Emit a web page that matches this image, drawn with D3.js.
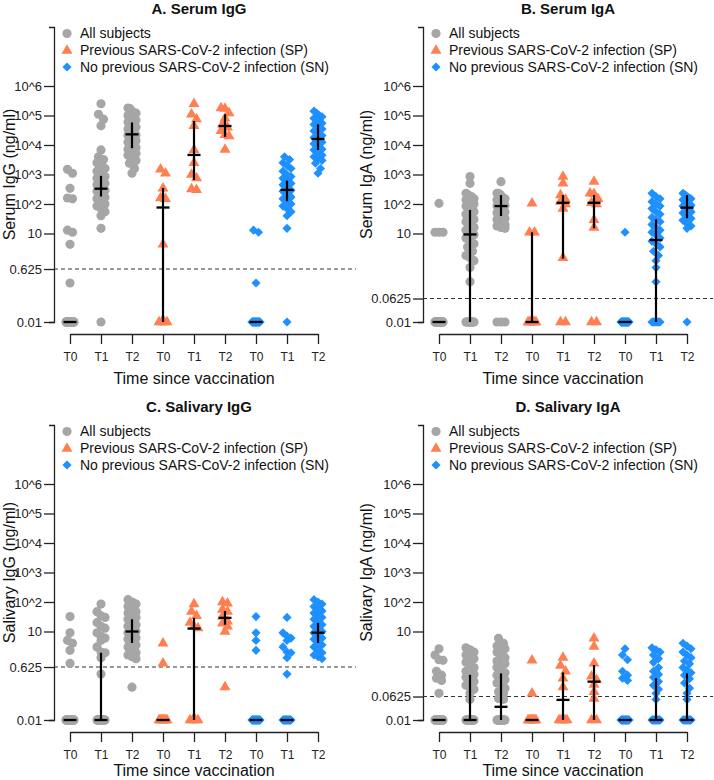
<!DOCTYPE html>
<html><head><meta charset="utf-8">
<script src="https://cdn.jsdelivr.net/npm/d3@7"></script>
<style>body{margin:0;background:#fff}svg{display:block}text{font-family:"Liberation Sans",Arial,sans-serif}</style>
</head><body><svg id="c" width="714" height="780"></svg>
<script>
const categories = ["T0", "T1", "T2"];
const groups = ["All subjects", "Previous SARS-CoV-2 infection (SP)", "No previous SARS-CoV-2 infection (SN)"];
const panelTitles = ["A. Serum IgG", "B. Serum IgA", "C. Salivary IgG", "D. Salivary IgA"];
const yAxisTitles = ["Serum IgG (ng/ml)", "Serum IgA (ng/ml)", "Salivary IgG (ng/ml)", "Salivary IgA (ng/ml)"];
const xAxisTitle = "Time since vaccination";
const cutoffs = [0.625, 0.0625, 0.625, 0.0625];
const tickValuesIgG = [0.01, 0.625, 10, 100, 1e3, 1e4, 1e5, 1e6];
const tickLabelsIgG = ["0.01", "0.625", "10", "10^2", "10^3", "10^4", "10^5", "10^6"];
const tickValuesIgA = [0.01, 0.0625, 10, 100, 1e3, 1e4, 1e5, 1e6];
const tickLabelsIgA = ["0.01", "0.0625", "10", "10^2", "10^3", "10^4", "10^5", "10^6"];

// values per time point [T0, T1, T2]; "All subjects" = SP + SN
const serumIgG_SP = [
  [1500, 1100, 340, 160, 150, 4.3, 0.01, 0.01, 0.01, 0.01],
  [250000, 110000, 75000, 45000, 6800, 2500, 1000, 750, 320, 300],
  [180000, 170000, 120000, 80000, 50000, 40000, 30000, 22000, 20000, 7000]
];
const serumIgG_SN = [
  [13, 11, 0.21, 0.01,0.01,0.01,0.01,0.01,0.01,0.01,0.01,0.01,0.01, 0.01,0.01,0.01,0.01,0.01,0.01,0.01,0.01,0.01,0.01, 0.01,0.01,0.01,0.01,0.01,0.01,0.01,0.01,0.01,0.01, 0.01,0.01,0.01],
  [4000, 3200, 2500, 2000, 1600, 1300, 1000, 850, 750, 650, 600, 550, 500, 450, 400, 360, 330, 310, 290, 270, 250, 230, 210, 190, 170, 150, 135, 125, 115, 100, 85, 70, 55, 40, 15, 0.01],
  [140000, 120000, 100000, 90000, 80000, 70000, 60000, 55000, 50000, 45000, 40000, 35000, 30000, 27000, 24000, 21000, 18000, 16500, 15500, 14000, 12500, 11000, 10000, 9000, 8000, 7200, 6800, 6000, 5200, 4500, 4000, 3500, 3000, 2400, 1600, 1100]
];
const serumIgA_SP = [
  [105, 11, 11, 0.01, 0.01, 0.01, 0.01, 0.01, 0.01, 0.01],
  [850, 500, 200, 140, 120, 100, 70, 1.5, 0.01, 0.01],
  [570, 230, 220, 150, 110, 100, 29, 16, 0.01, 0.01]
];
const serumIgA_SN = [
  [11, 0.01,0.01,0.01,0.01,0.01,0.01,0.01,0.01,0.01,0.01, 0.01,0.01,0.01,0.01,0.01,0.01,0.01,0.01,0.01,0.01, 0.01,0.01,0.01,0.01,0.01,0.01,0.01,0.01,0.01,0.01, 0.01,0.01,0.01,0.01,0.01],
  [230, 180, 150, 120, 100, 85, 70, 55, 45, 35, 30, 25, 20, 16, 13, 11, 9, 7, 5.5, 4.5, 3.5, 2.5, 1.8, 1.2, 0.7, 0.23, 0.01,0.01,0.01,0.01,0.01,0.01,0.01,0.01,0.01,0.01],
  [230, 210, 190, 170, 160, 150, 140, 130, 120, 110, 105, 100, 95, 90, 86, 83, 80, 78, 76, 73, 70, 66, 62, 58, 54, 50, 45, 40, 36, 32, 28, 24, 20, 18, 15, 0.01]
];
const salivaryIgG_SP = [
  [4, 0.83, 0.01, 0.01, 0.01, 0.01, 0.01, 0.01, 0.01, 0.01],
  [85, 47, 34, 20, 15, 13, 0.01, 0.01, 0.01, 0.01],
  [100, 90, 55, 47, 32, 22, 19, 15, 10, 0.13]
];
const salivaryIgG_SN = [
  [32, 9, 5, 2.3, 0.01,0.01,0.01,0.01,0.01,0.01,0.01,0.01,0.01,0.01, 0.01,0.01,0.01,0.01,0.01,0.01,0.01,0.01,0.01,0.01, 0.01,0.01,0.01,0.01,0.01,0.01,0.01,0.01,0.01,0.01, 0.01,0.01],
  [30, 9, 7, 6, 5, 3, 2, 1.9, 1.3, 0.36, 0.01,0.01,0.01,0.01,0.01,0.01,0.01,0.01,0.01,0.01, 0.01,0.01,0.01,0.01,0.01,0.01,0.01,0.01,0.01,0.01, 0.01,0.01,0.01,0.01,0.01,0.01],
  [120, 100, 85, 70, 60, 50, 42, 36, 30, 26, 22, 19, 17, 15, 13, 12, 11, 10, 9, 8, 7.5, 7, 6.5, 6, 5.5, 5, 4.5, 4, 3.5, 3, 2.6, 2.2, 1.9, 1.6, 1.4, 1.2]
];
const salivaryIgA_SP = [
  [1.05, 0.08, 0.01, 0.01, 0.01, 0.01, 0.01, 0.01, 0.01, 0.01],
  [1.3, 0.7, 0.45, 0.26, 0.13, 0.01, 0.01, 0.01, 0.01, 0.01],
  [5.9, 3.1, 0.83, 0.3, 0.23, 0.16, 0.09, 0.053, 0.01, 0.01]
];
const salivaryIgA_SN = [
  [2.6, 1.6, 1.1, 0.45, 0.33, 0.26, 0.22, 0.01,0.01,0.01,0.01,0.01,0.01,0.01,0.01,0.01,0.01, 0.01,0.01,0.01,0.01,0.01,0.01,0.01,0.01,0.01,0.01, 0.01,0.01,0.01,0.01,0.01,0.01,0.01,0.01,0.01],
  [2.8, 2.4, 2, 1.6, 1.2, 0.9, 0.6, 0.45, 0.35, 0.28, 0.2, 0.15, 0.11, 0.08, 0.05, 0.01,0.01,0.01,0.01,0.01,0.01,0.01,0.01,0.01,0.01, 0.01,0.01,0.01,0.01,0.01,0.01,0.01,0.01,0.01,0.01, 0.01],
  [4, 3.2, 2.6, 2, 1.6, 1.3, 1, 0.8, 0.6, 0.5, 0.4, 0.33, 0.25, 0.18, 0.12, 0.08, 0.05, 0.01,0.01,0.01,0.01,0.01,0.01,0.01,0.01,0.01,0.01, 0.01,0.01,0.01,0.01,0.01,0.01,0.01,0.01,0.01]
];

// [median, Q1, Q3] for All T0..T2, SP T0..T2, SN T0..T2
const serumIgG_stats = [[0.01,0.01,0.01],[330,180,900],[23000,7800,58000],[76,0.01,350],[4600,650,65000],[44000,19000,110000],[0.01,0.01,0.01],[300,125,620],[16000,6800,50000]];
const serumIgA_stats = [[0.01,0.01,0.01],[9.3,0.01,63],[85,39,200],[0.01,0.01,11],[110,1.4,200],[110,15,200],[0.01,0.01,0.01],[6,0.01,30],[75,33,200]];
const salivaryIgG_stats = [[0.01,0.01,0.01],[0.01,0.01,1.9],[10,4.1,26],[0.01,0.01,0.01],[12.6,0.01,29],[29,17,49],[0.01,0.01,0.01],[0.01,0.01,0.01],[9.1,4.1,19.6]];
const salivaryIgA_stats = [[0.01,0.01,0.01],[0.01,0.01,0.34],[0.028,0.01,0.38],[0.01,0.01,0.01],[0.048,0.01,0.41],[0.2,0.01,0.73],[0.01,0.01,0.01],[0.01,0.01,0.26],[0.01,0.01,0.38]];

const colors = ["#A6A6A6", "#FF7F50", "#1E90FF"];
const axisColor = "#222";

const panels = [
  {ox: 0, oy: 0, axisX: 54, ti: 0, tv: tickValuesIgG, tl: tickLabelsIgG, SP: serumIgG_SP, SN: serumIgG_SN, stats: serumIgG_stats, xlabY: 384},
  {ox: 357, oy: 0, axisX: 66, ti: 1, tv: tickValuesIgA, tl: tickLabelsIgA, SP: serumIgA_SP, SN: serumIgA_SN, stats: serumIgA_stats, xlabY: 384},
  {ox: 0, oy: 398, axisX: 54, ti: 2, tv: tickValuesIgG, tl: tickLabelsIgG, SP: salivaryIgG_SP, SN: salivaryIgG_SN, stats: salivaryIgG_stats, xlabY: 378},
  {ox: 357, oy: 398, axisX: 66, ti: 3, tv: tickValuesIgA, tl: tickLabelsIgA, SP: salivaryIgA_SP, SN: salivaryIgA_SN, stats: salivaryIgA_stats, xlabY: 378}
];

const svg = d3.select("#c");
const symbols = [
  d3.symbol().type(d3.symbolCircle).size(66),
  d3.symbol().type(d3.symbolTriangle).size(52),
  d3.symbol().type(d3.symbolSquare).size(42)
];
const rotations = [0, 0, 45];

function layout(values, y) {
  const pts = values.map(v => ({v, py: y(v)})).sort((a, b) => a.py - b.py);
  const out = [];
  let i = 0;
  while (i < pts.length) {
    let j = i;
    while (j < pts.length && pts[j].py - pts[i].py < 6) j++;
    const n = j - i;
    const step = n > 1 ? Math.min(5, 8 / (n - 1)) : 0;
    for (let k = 0; k < n; k++) out.push({...pts[i + k], dx: (k - (n - 1) / 2) * step});
    i = j;
  }
  return out;
}

panels.forEach(p => {
  const g = svg.append("g").attr("transform", `translate(${p.ox},${p.oy})`);
  const y = d3.scaleLog().domain([0.01, 1e8]).range([322, 27]);
  const keys = [];
  groups.forEach((_, gi) => categories.forEach(c => keys.push(gi + "|" + c)));
  const x0 = p.axisX + 16, x1 = p.axisX + 264;
  const x = d3.scalePoint().domain(keys).range([x0, x1]);
  const cx = (x0 + x1) / 2;

  // title
  g.append("text").attr("x", cx + 5).attr("y", 14).attr("text-anchor", "middle")
    .attr("font-size", 15).attr("font-weight", "bold").attr("fill", "#111").text(panelTitles[p.ti]);

  // y axis
  const ya = g.append("g").attr("transform", `translate(${p.axisX},0)`)
    .call(d3.axisLeft(y).tickValues(p.tv).tickFormat((d, i) => p.tl[i]).tickSize(10).tickSizeOuter(5).tickPadding(2));
  ya.attr("font-size", 13).attr("font-family", "Liberation Sans, Arial, sans-serif");
  ya.selectAll("path,line").attr("stroke", axisColor).attr("stroke-width", 1.3);
  ya.selectAll("text").attr("fill", axisColor);

  // cutoff
  g.append("line").attr("x1", p.axisX).attr("x2", 356).attr("y1", y(cutoffs[p.ti])).attr("y2", y(cutoffs[p.ti]))
    .attr("stroke", "#333").attr("stroke-width", 1.2).attr("stroke-dasharray", "4,3");

  // x axis
  const xa = g.append("g").attr("transform", "translate(0,334)")
    .call(d3.axisBottom(x).tickSize(10).tickSizeOuter(0).tickPadding(8).tickFormat(d => d.split("|")[1]));
  xa.attr("font-size", 12).attr("font-family", "Liberation Sans, Arial, sans-serif");
  xa.selectAll("path,line").attr("stroke", axisColor).attr("stroke-width", 1.3);
  xa.selectAll("text").attr("fill", axisColor);

  // axis titles
  g.append("text").attr("transform", `translate(14.5,${(y(0.01) + y(1e8)) / 2}) rotate(-90)`).attr("text-anchor", "middle")
    .attr("font-size", 16).attr("fill", "#111").text(yAxisTitles[p.ti]);
  g.append("text").attr("x", cx).attr("y", p.xlabY).attr("text-anchor", "middle")
    .attr("font-size", 16).attr("fill", "#111").text(xAxisTitle);

  // points
  groups.forEach((_, gi) => {
    categories.forEach((c, ci) => {
      const vals = gi === 0 ? p.SP[ci].concat(p.SN[ci]) : (gi === 1 ? p.SP[ci] : p.SN[ci]);
      const pts = layout(vals, y);
      const px = x(gi + "|" + c);
      g.append("g").selectAll("path").data(pts).join("path")
        .attr("d", symbols[gi]())
        .attr("transform", d => `translate(${px + d.dx},${d.py}) rotate(${rotations[gi]})`)
        .attr("fill", colors[gi]);
    });
  });

  // median + IQR
  p.stats.forEach((s, i) => {
    const px = x(keys[i]);
    const [m, q1, q3] = s;
    if (q1 !== q3) {
      g.append("line").attr("x1", px).attr("x2", px).attr("y1", y(q1)).attr("y2", y(q3))
        .attr("stroke", "#000").attr("stroke-width", 2.2);
    }
    g.append("line").attr("x1", px - 6.5).attr("x2", px + 6.5).attr("y1", y(m)).attr("y2", y(m))
      .attr("stroke", "#000").attr("stroke-width", 2.3);
  });

  // legend
  const ly = [33.5, 50.5, 67];
  groups.forEach((name, gi) => {
    g.append("path").attr("d", symbols[gi]())
      .attr("transform", `translate(${p.axisX + 13},${ly[gi]}) rotate(${rotations[gi]})`).attr("fill", colors[gi]);
    g.append("text").attr("x", p.axisX + 26).attr("y", ly[gi]).attr("dy", "0.35em")
      .attr("font-size", 14).attr("fill", "#111").text(name);
  });
});
</script>
</body></html>
